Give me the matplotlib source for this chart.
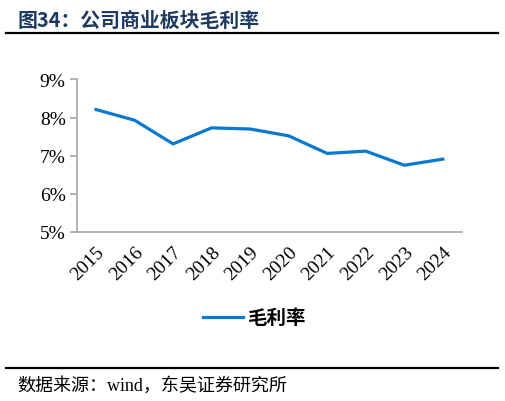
import matplotlib
matplotlib.use("Agg")
import matplotlib.pyplot as plt
from matplotlib.lines import Line2D

years = ["2015", "2016", "2017", "2018", "2019", "2020", "2021", "2022", "2023", "2024"]
margin = [8.21, 7.93, 7.31, 7.73, 7.70, 7.52, 7.06, 7.12, 6.75, 6.91]
y_ticks = [5, 6, 7, 8, 9]
series_name = "毛利率"
title = "图34：公司商业板块毛利率"
source = "数据来源：wind，东吴证券研究所"

CJK = ["Noto Sans CJK SC", "DejaVu Sans"]
SERIF = ["Liberation Serif", "Noto Sans CJK SC"]

fig = plt.figure(figsize=(5.05, 4.02), dpi=100)
ax = fig.add_axes([0.152, 0.4204, 0.763, 0.3796])

x = list(range(len(years)))
ax.plot(x, margin, color="#0A78D0", lw=2.3, solid_joinstyle="miter")
ax.set_xlim(-0.5, len(years) - 0.5)
ax.set_ylim(5, 9)
ax.set_yticks(y_ticks)
ax.set_yticklabels([f"{v}%" for v in y_ticks], family=SERIF, fontsize=14)
ax.set_xticks(x)
ax.set_xticklabels(years, family=SERIF, fontsize=14, rotation=45,
                   ha="right", rotation_mode="anchor")
for s in ["top", "right"]:
    ax.spines[s].set_visible(False)
for s in ["left", "bottom"]:
    ax.spines[s].set_color("#A6A6A6")
    ax.spines[s].set_linewidth(1.2)
ax.tick_params(axis="y", length=5, width=1.2, color="#A6A6A6", pad=3)
ax.tick_params(axis="x", length=0, pad=8)

# title and rules
fig.text(18 / 505, 1 - 20 / 402, title, family=CJK, fontsize=14.3, weight="bold",
         color="#1F3A60", va="center", ha="left")
fig.add_artist(Line2D([6 / 505, 498 / 505], [1 - 34 / 402, 1 - 34 / 402],
                      color="black", lw=1.6))
fig.add_artist(Line2D([6 / 505, 498 / 505], [1 - 369 / 402, 1 - 369 / 402],
                      color="black", lw=1.6))
fig.text(17 / 505, 1 - 386 / 402, source, family=SERIF,
         fontsize=13, color="black", va="center", ha="left")

# legend
fig.add_artist(Line2D([203 / 505, 243 / 505], [1 - 318 / 402, 1 - 318 / 402],
                      color="#0A78D0", lw=2.3))
fig.text(247 / 505, 1 - 318 / 402, series_name, family=CJK, fontsize=14,
         weight="bold", va="center", ha="left")

fig.savefig("out.png", dpi=100)
